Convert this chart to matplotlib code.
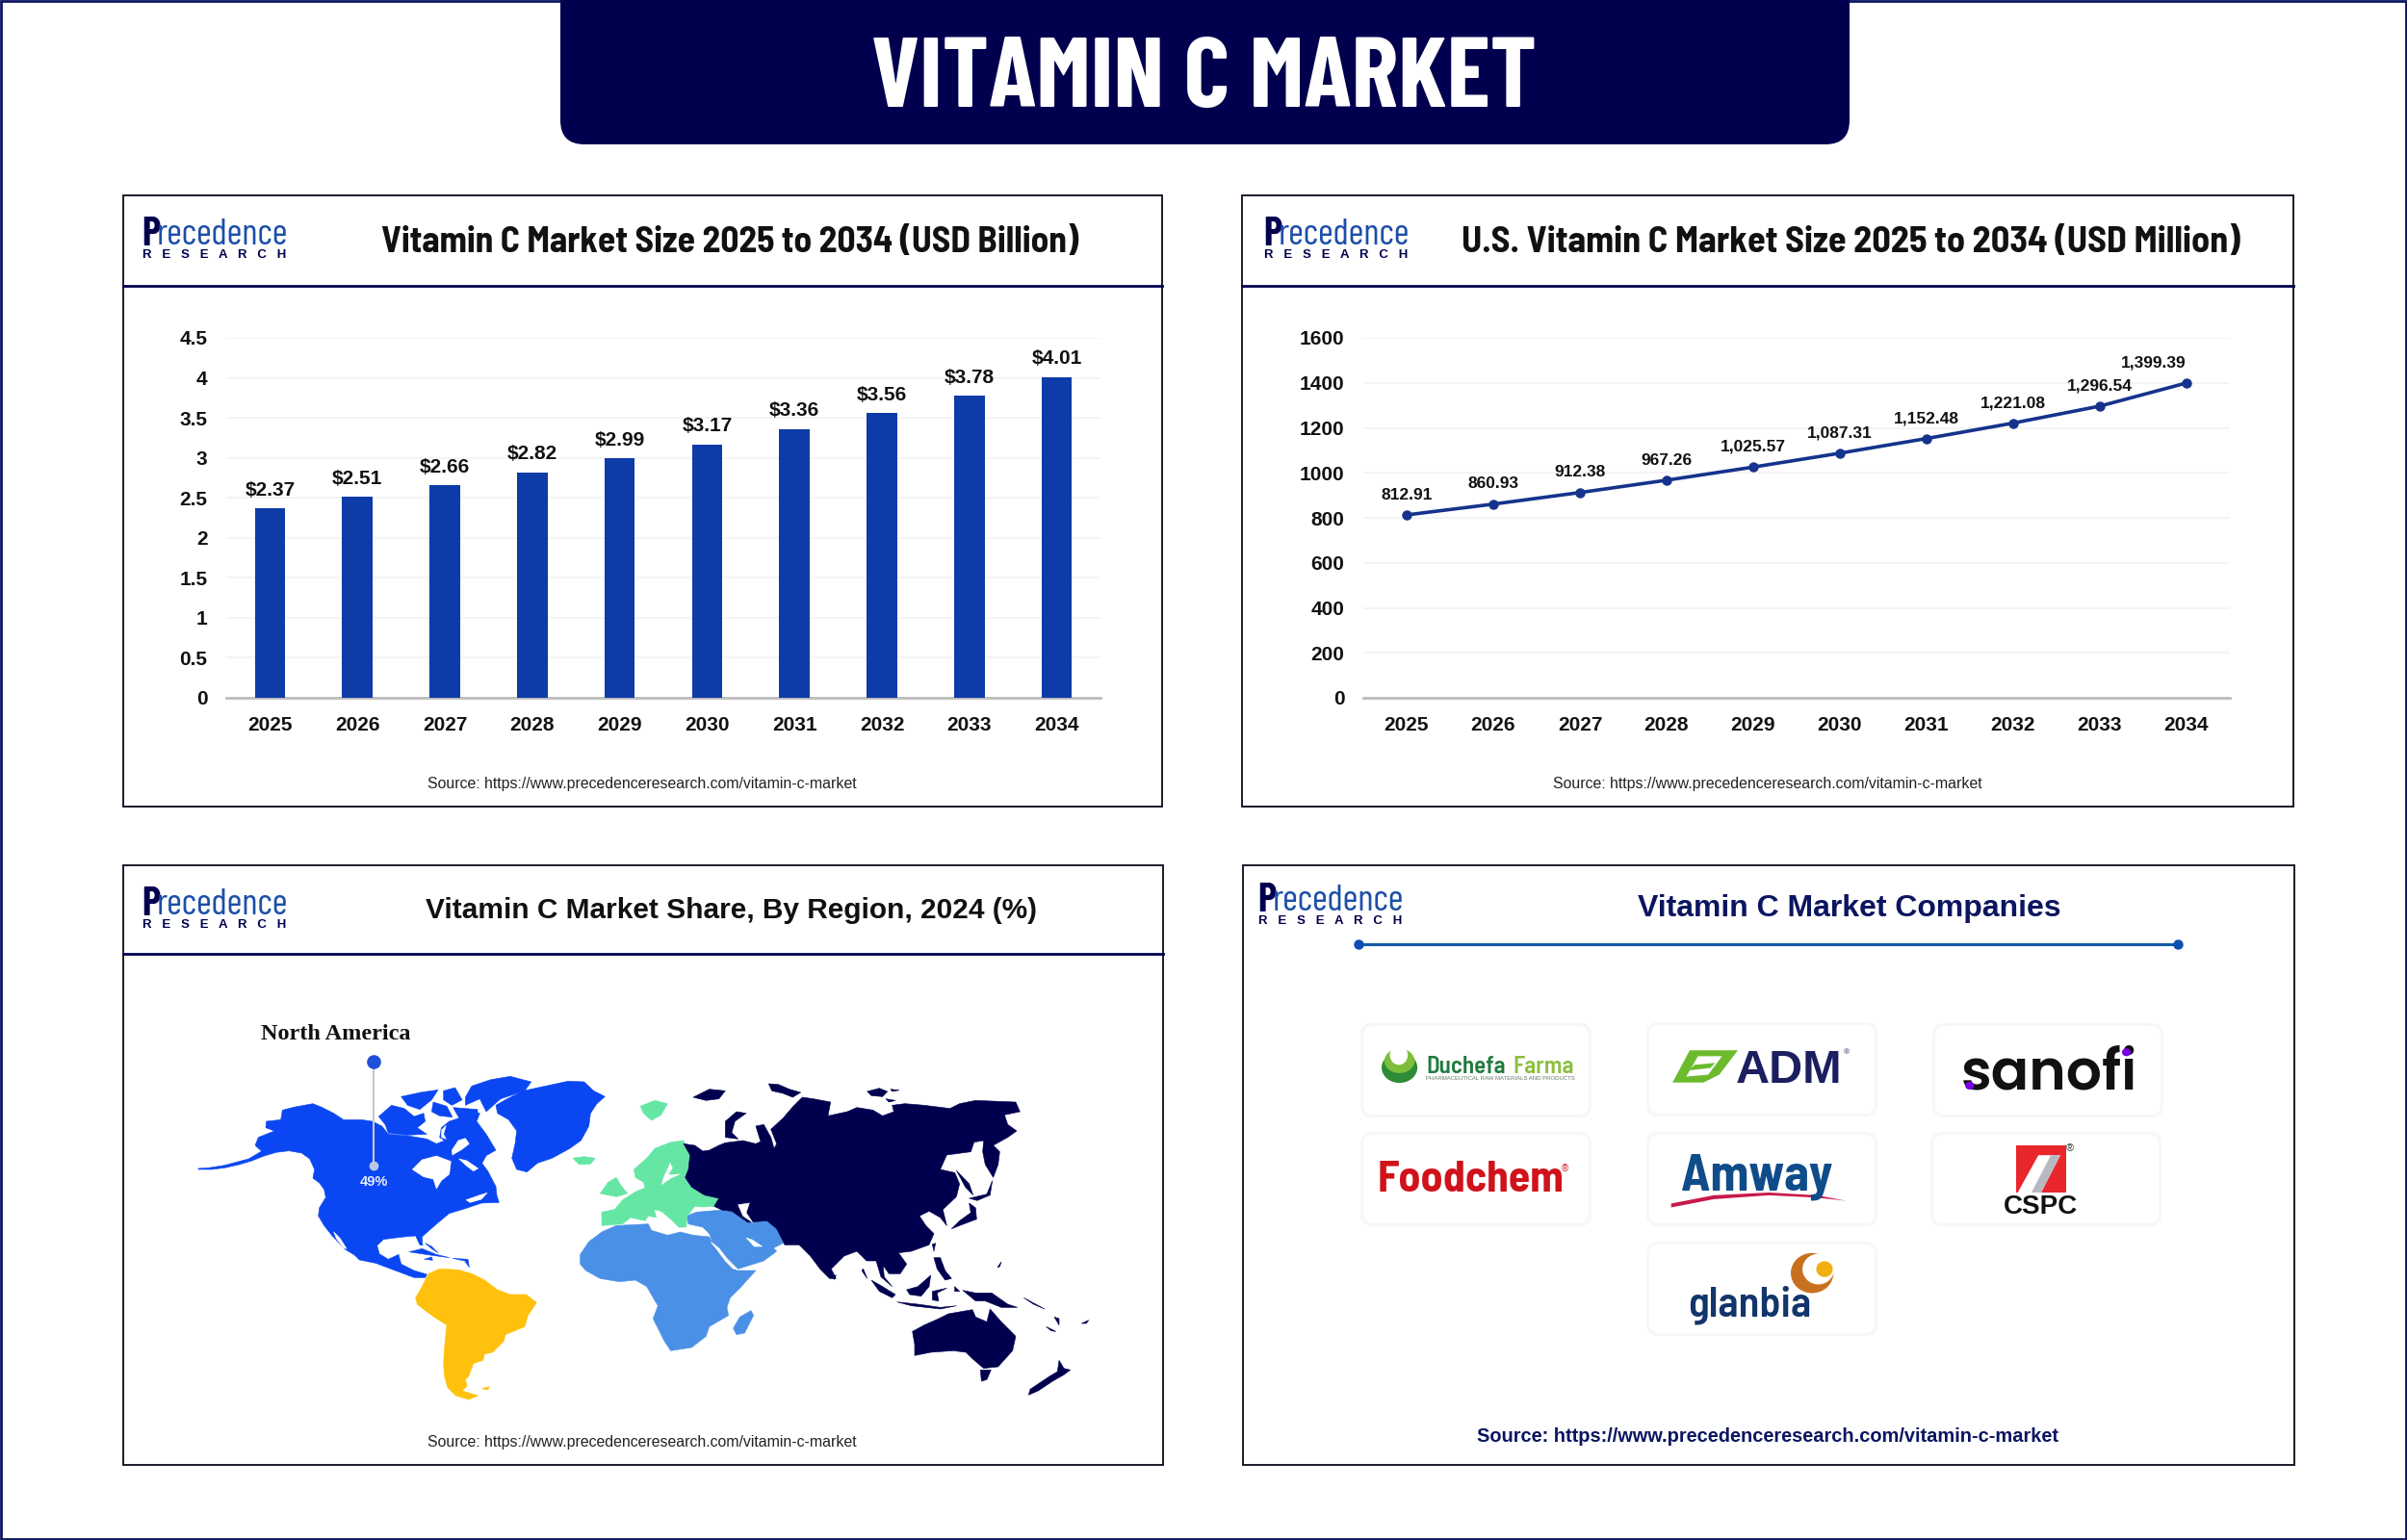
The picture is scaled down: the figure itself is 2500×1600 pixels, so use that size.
# Vitamin C market infographic, four panels on one sheet
import logging
import matplotlib
matplotlib.use("Agg")
import matplotlib.pyplot as plt
from matplotlib.patches import FancyBboxPatch, Polygon, Ellipse, Rectangle

logging.getLogger("matplotlib.font_manager").setLevel(logging.ERROR)

# Chart data
years = [2025, 2026, 2027, 2028, 2029, 2030, 2031, 2032, 2033, 2034]
market_size = [2.37, 2.51, 2.66, 2.82, 2.99, 3.17, 3.36, 3.56, 3.78, 4.01]
market_labels = ["$2.37", "$2.51", "$2.66", "$2.82", "$2.99", "$3.17", "$3.36", "$3.56", "$3.78", "$4.01"]
bar_yticks = [0, 0.5, 1, 1.5, 2, 2.5, 3, 3.5, 4, 4.5]
bar_yticklabels = ["0", "0.5", "1", "1.5", "2", "2.5", "3", "3.5", "4", "4.5"]
us_market = [812.91, 860.93, 912.38, 967.26, 1025.57, 1087.31, 1152.48, 1221.08, 1296.54, 1399.39]
us_labels = ["812.91", "860.93", "912.38", "967.26", "1,025.57", "1,087.31", "1,152.48", "1,221.08", "1,296.54", "1,399.39"]
line_yticks = [0, 200, 400, 600, 800, 1000, 1200, 1400, 1600]

# Map outlines traced by eye. West and middle use a 3x grid from sheet (190,1100) and (590,1100), east from (780,1110)
north_america = [(48,345),(90,345),(130,340),(175,330),(215,318),(250,304),(290,292),(330,287),(370,294),(395,312),(410,345),(405,372),
                 (425,387),(440,407),(445,432),(425,465),(422,490),(440,520),(465,552),(505,594),(535,612),(550,627),(600,637),(640,652),
                 (680,667),(720,682),(755,682),(760,672),(720,660),(680,640),(672,610),(640,625),(612,608),(605,582),(625,563),(680,556),
                 (725,552),(738,580),(747,582),(745,555),(790,515),(830,482),(880,467),(930,450),(985,448),(978,425),(975,398),(950,350),
                 (932,326),(945,302),(975,285),(945,235),(915,195),(925,170),(905,165),(860,185),(830,195),(805,215),(800,245),(815,255),
                 (790,265),(760,250),(700,240),(640,235),(620,210),(590,195),(555,190),(500,190),(470,170),(430,150),(405,140),(350,150),
                 (310,160),(305,190),(260,195),(258,215),(285,225),(235,245),(225,270),(245,288),(205,312),(130,332),(80,340),(48,342)]
hudson_bay = [(715,345),(745,315),(790,303),(835,320),(830,360),(805,380),(790,405),(780,375),(750,368)]
foxe_basin = [(858,255),(880,248),(892,265),(870,282),(840,300),(838,285)]
hudson_strait = [(860,312),(885,318),(920,342),(905,350),(885,335)]
st_lawrence = [(882,440),(925,425),(948,418),(930,438),(895,448)]
boothia_gap = [(806,222),(820,208),(812,235),(820,250),(806,245)]
gulf_california = [(470,540),(490,560),(510,592),(500,590),(478,560)]
banks_victoria = [(610,180),(650,145),(690,155),(720,180),(750,170),(755,195),(730,215),(760,235),(700,238),(640,232),(630,205)]
arctic_a = [(680,118),(740,105),(795,97),(775,128),(738,158),(700,145)]
arctic_b = [(812,100),(848,90),(870,128),(838,145),(812,128)]
arctic_c = [(780,135),(822,148),(840,182),(800,178),(775,165)]
arctic_d = [(842,152),(918,158),(918,188),(860,184)]
ellesmere = [(880,120),(900,85),(960,65),(1020,55),(1085,72),(1065,100),(990,125),(945,165),(925,125),(880,145)]
greenland = [(975,145),(1010,125),(1060,100),(1130,85),(1200,70),(1250,72),(1280,100),(1315,118),(1290,140),(1270,170),(1265,210),
             (1240,255),(1205,280),(1150,310),(1105,325),(1072,353),(1040,345),(1025,310),(1035,265),(1040,225),(1015,190),(980,170)]
cuba = [(705,602),(745,592),(790,610),(830,620),(770,612)]
hispaniola = [(752,625),(775,618),(778,628)]
bahamas = [(755,575),(775,585),(795,605),(775,592)]
antilles = [(840,622),(870,624),(888,625),(892,650),(878,630)]
south_america = [(725,745),(745,710),(765,670),(800,655),(860,658),(900,670),(940,690),(980,720),(1020,735),(1070,735),(1102,760),
                 (1075,800),(1065,835),(1005,860),(1000,880),(965,915),(940,920),(935,940),(905,950),(890,990),(880,1000),(885,1020),
                 (870,1035),(920,1050),(890,1062),(850,1050),(825,1025),(815,990),(812,950),(815,900),(822,830),(790,810),(755,785),(730,765)]
falkland = [(932,1028),(955,1022),(950,1032)]

europe = [(105,520),(105,478),(145,470),(170,440),(215,412),(240,403),(235,385),(210,370),(205,345),(245,310),(270,280),(320,260),(360,255),
          (380,300),(375,345),(365,370),(385,400),(425,425),(470,435),(455,460),(420,462),(395,460),(372,490),(368,525),(345,525),(320,500),
          (290,475),(268,470),(275,495),(250,490),(240,505),(195,495),(170,515)]
baltic = [(318,325),(325,340),(312,362),(348,360),(320,372),(292,392),(300,365),(310,345)]
uk = [(100,420),(125,385),(150,370),(165,395),(185,420),(150,430),(125,425)]
iceland = [(15,310),(50,305),(85,310),(70,328),(35,330)]
svalbard = [(225,148),(270,130),(310,140),(290,175),(260,192),(235,170)]
africa = [(38,610),(65,570),(105,540),(150,520),(250,515),(260,535),(310,550),(350,540),(390,550),(440,555),(460,590),(490,620),(525,660),
          (585,660),(540,710),(505,745),(495,775),(500,800),(440,835),(430,865),(385,900),(320,910),(300,880),(280,840),(265,810),(280,770),
          (245,710),(210,690),(160,695),(100,685),(55,660),(38,640)]
middle_east = [(370,490),(400,478),(470,472),(510,475),(560,510),(620,505),(650,530),(670,575),(640,590),(650,600),(610,630),(530,655),
               (490,615),(450,570),(440,545),(420,525),(375,515)]
red_sea = [(445,572),(470,590),(500,630),(525,655),(515,655),(490,630),(462,592)]
persian_gulf = [(555,558),(575,565),(605,585),(580,585)]
madagascar = [(570,785),(578,800),(550,855),(525,860),(515,840),(535,805)]

asia = [(-210,235),(-175,240),(-150,258),(-130,255),(-100,240),(-80,232),(-25,225),(15,235),(30,228),(15,180),(40,175),(62,215),(72,250),
        (80,235),(62,190),(100,155),(130,120),(160,90),(195,95),(248,105),(240,148),(300,135),(330,122),(380,130),(410,148),(445,135),
        (440,115),(480,110),(540,115),(620,125),(650,110),(700,100),(825,105),(838,135),(790,145),(800,175),(828,195),(800,215),(755,240),
        (775,260),(770,300),(755,340),(730,300),(722,260),(725,225),(695,230),(685,260),(610,270),(590,315),(635,325),(650,360),(640,400),
        (598,440),(610,490),(590,465),(555,445),(525,460),(545,490),(570,515),(555,550),(500,570),(460,575),(485,610),(465,640),(430,640),
        (412,615),(415,650),(440,680),(405,650),(390,600),(360,600),(330,570),(290,585),(250,625),(265,655),(245,655),(215,625),(185,585),
        (150,550),(105,550),(80,500),(50,475),(-10,480),(-60,445),(-90,442),(-115,430),(-100,405),(-145,395),(-185,370),(-205,340),(-195,315),
        (-190,270)]
caspian = [(-40,425),(-5,420),(-15,450),(5,480),(-25,460)]
novaya_zemlya = [(-80,215),(-80,165),(-45,135),(-15,140),(-50,165),(-60,200),(-40,220)]
franz_josef = [(-180,90),(-130,65),(-80,70),(-100,95),(-140,100)]
severnaya = [(55,48),(85,50),(120,65),(155,75),(130,90),(100,78),(65,70)]
siberian_a = [(362,72),(400,62),(425,72),(410,88),(375,85)]
siberian_b = [(420,95),(450,100),(430,105)]
siberian_c = [(435,65),(462,68),(440,72)]
sakhalin = [(640,318),(680,360),(692,395),(668,370)]
hokkaido = [(680,405),(735,392),(752,350),(745,395),(705,412)]
japan = [(680,420),(700,435),(703,470),(650,490),(625,500),(650,475),(685,450)]
taiwan = [(565,548),(575,545),(570,570)]
philippines = [(570,590),(590,590),(605,630),(625,655),(605,660),(580,625)]
borneo = [(485,690),(520,680),(560,645),(555,680),(530,710),(495,705)]
sumatra = [(375,660),(410,680),(450,705),(440,715),(400,695)]
java = [(455,728),(520,735),(590,745),(640,740),(590,750),(500,740)]
sulawesi = [(565,695),(610,685),(580,700),(585,725),(565,722)]
papua = [(660,692),(700,700),(750,700),(800,735),(830,745),(780,745),(730,725),(700,725)]
moluccas = [(635,680),(650,695),(635,695)]
solomon = [(850,715),(915,750),(880,735)]
vanuatu = [(945,775),(960,780),(960,800)]
caledonia = [(920,805),(950,820),(935,818)]
fiji = [(1030,795),(1052,785),(1045,795)]
sri_lanka = [(248,645),(265,645),(260,658)]
andaman = [(345,630),(350,625),(362,655)]
solo_mark = [(768,620),(780,603),(775,618)]
australia = [(503,820),(540,800),(585,780),(615,765),(690,752),(700,775),(735,790),(745,750),(780,790),(825,835),(815,880),(770,930),(725,935),
             (690,905),(670,885),(630,880),(560,885),(510,895),(510,860)]
tasmania = [(715,940),(748,940),(735,970),(718,975)]
new_zealand = [(960,910),(975,935),(995,940),(975,955),(940,975),(895,1005),(865,1018),(870,1000),(930,960),(955,945)]

NAVY = "#00004F"
BAR_BLUE = "#0D3BA8"
LINE_BLUE = "#15338C"
GRID = "#F3F3F3"
BASE = "#BDBDBD"
ARIAL = "Liberation Sans"
SEMI = ["Barlow Semi Condensed", "Liberation Sans"]
COND = ["Barlow Condensed", "Liberation Sans"]
SOURCE = "Source: https://www.precedenceresearch.com/vitamin-c-market"

fig = plt.figure(figsize=(25, 16), dpi=100, facecolor="white")


def pixel_axes(left, top, width, height, xlim, ylim):
    """Axes placed by sheet pixels, y measured from the top."""
    ax = fig.add_axes([left / 2500, 1 - (top + height) / 1600, width / 2500, height / 1600])
    ax.set_xlim(*xlim)
    ax.set_ylim(*ylim)
    return ax


def fill_shapes(ax, colour, shapes):
    for shape in shapes:
        ax.add_patch(Polygon(shape, closed=True, fc=colour, ec=colour, lw=0.4, joinstyle="round", clip_on=False))


sheet = pixel_axes(0, 0, 2500, 1600, (0, 2500), (1600, 0))
sheet.axis("off")

# Outer frame and title tab
sheet.add_patch(Rectangle((1, 1), 2498, 1598, fill=False, ec="#0B1560", lw=2))
sheet.add_patch(FancyBboxPatch((582, -60), 1339, 210, boxstyle="round,pad=0,rounding_size=25", fc=NAVY, ec="none"))
sheet.text(1250, 84, "VITAMIN C MARKET", color="white", fontsize=74, family=COND, fontweight="bold", ha="center", va="center")


def panel(left, top, right, bottom, rule_y):
    sheet.add_patch(Rectangle((left, top), right - left, bottom - top, fill=False, ec="#1A1A2A", lw=1.4))
    if rule_y:
        sheet.plot([left, right], [rule_y, rule_y], color=NAVY, lw=2)


def brand(x, y):
    # x is the left of the wordmark, y the middle of the word
    sheet.text(x, y, "P", color=NAVY, fontsize=30, family=COND, fontweight="bold", va="center", ha="left")
    sheet.text(x + 16, y + 1, "recedence", color="#1C4FA8", fontsize=27.5, family=COND, va="center", ha="left")
    sheet.text(x + 1, y + 21, "R   E   S   E   A   R   C   H", color=NAVY, fontsize=9.5, family=ARIAL, fontweight="bold", va="center", ha="left")


panel(128, 203, 1207, 838, 297)
panel(1290, 203, 2382, 838, 297)
panel(128, 899, 1208, 1522, 991)
panel(1291, 899, 2383, 1522, None)
brand(147, 244)
brand(1312, 244)
brand(147, 940)
brand(1306, 936)

sheet.text(758, 252, "Vitamin C Market Size 2025 to 2034 (USD Billion)", fontsize=27, fontweight="bold", family=SEMI, color="#111111",
           ha="center", va="center")
sheet.text(1922, 252, "U.S. Vitamin C Market Size 2025 to 2034 (USD Million)", fontsize=27.5, fontweight="bold", family=SEMI, color="#111111",
           ha="center", va="center")
sheet.text(760, 946, "Vitamin C Market Share, By Region, 2024 (%)", fontsize=21.5, fontweight="bold", family=ARIAL, color="#111111",
           ha="center", va="center")
sheet.text(1921, 944, "Vitamin C Market Companies", fontsize=23, fontweight="bold", family=ARIAL, color="#0B1560", ha="center", va="center")
sheet.text(667, 814, SOURCE, fontsize=11.4, family=ARIAL, color="#222222", ha="center", va="center")
sheet.text(1836, 814, SOURCE, fontsize=11.4, family=ARIAL, color="#222222", ha="center", va="center")
sheet.text(667, 1498, SOURCE, fontsize=11.4, family=ARIAL, color="#222222", ha="center", va="center")
sheet.text(1836, 1492, SOURCE, fontsize=14.4, fontweight="bold", family=ARIAL, color="#0B1560", ha="center", va="center")

# Bar chart
ax1 = pixel_axes(235, 351, 908, 374, (-0.5, 9.5), (0, 4.5))
ax1.patch.set_alpha(0)
ax1.bar(range(len(years)), market_size, width=0.35, color=BAR_BLUE, zorder=3)
for i, label in enumerate(market_labels):
    ax1.annotate(label, (i, market_size[i]), xytext=(0, 13.5), textcoords="offset points", ha="center", va="center", fontsize=15,
                 fontweight="bold", family=ARIAL, color="#111111")
ax1.set_xticks(range(len(years)))
ax1.set_xticklabels(years)
ax1.set_yticks(bar_yticks)
ax1.set_yticklabels(bar_yticklabels)

# Line chart
ax2 = pixel_axes(1416, 351, 900, 374, (-0.5, 9.5), (0, 1600))
ax2.patch.set_alpha(0)
ax2.plot(range(len(years)), us_market, color=LINE_BLUE, lw=2.6, marker="o", ms=6.5, zorder=3)
for i, label in enumerate(us_labels):
    # the last label sits left of its point in the original
    shift = -25 if i == len(us_labels) - 1 else 0
    ax2.annotate(label, (i, us_market[i]), xytext=(shift, 15), textcoords="offset points", ha="center", va="center", fontsize=12.5,
                 fontweight="bold", family=ARIAL, color="#111111")
ax2.set_xticks(range(len(years)))
ax2.set_xticklabels(years)
ax2.set_yticks(line_yticks)

for ax in (ax1, ax2):
    ax.grid(axis="y", color=GRID, lw=1.3, zorder=0)
    ax.set_axisbelow(True)
    for side in ("top", "right", "left"):
        ax.spines[side].set_visible(False)
    ax.spines["bottom"].set_color(BASE)
    ax.spines["bottom"].set_linewidth(2)
    ax.tick_params(length=0, pad=14)
    for tick in ax.get_xticklabels() + ax.get_yticklabels():
        tick.set_fontsize(15)
        tick.set_fontweight("bold")
        tick.set_fontfamily(ARIAL)
        tick.set_color("#111111")

# World map, one axes per tracing grid
west = pixel_axes(190, 1100, 400, 400, (0, 1200), (1200, 0))
west.axis("off")
fill_shapes(west, "#0A47F2", [north_america, banks_victoria, arctic_a, arctic_b, arctic_c, arctic_d, ellesmere, greenland, cuba,
                              hispaniola, bahamas, antilles])
fill_shapes(west, "white", [hudson_bay, foxe_basin, hudson_strait, st_lawrence, boothia_gap, gulf_california])
fill_shapes(west, "#FFC10D", [south_america, falkland])

middle = pixel_axes(590, 1100, 280, 400, (0, 840), (1200, 0))
middle.axis("off")
fill_shapes(middle, "#4A90E6", [africa, middle_east, madagascar])
fill_shapes(middle, "white", [red_sea, persian_gulf])
fill_shapes(middle, "#66E6A5", [europe, uk, iceland, svalbard])
fill_shapes(middle, "white", [baltic])

east = pixel_axes(780, 1110, 380, 380, (0, 1140), (1140, 0))
east.axis("off")
fill_shapes(east, NAVY, [asia, novaya_zemlya, franz_josef, severnaya, siberian_a, siberian_b, siberian_c, sakhalin, hokkaido, japan, taiwan,
                         philippines, borneo, sumatra, java, sulawesi, papua, moluccas, solomon, vanuatu, caledonia, fiji, sri_lanka,
                         andaman, solo_mark, australia, tasmania, new_zealand])
fill_shapes(east, "white", [caspian])

# North America callout, sheet pixels on a top layer
callout = pixel_axes(0, 0, 2500, 1600, (0, 2500), (1600, 0))
callout.axis("off")
callout.plot([388, 388], [1103, 1211], color="#C4C8D2", lw=1.5)
callout.plot([388], [1103], "o", color="#1F4FD8", ms=9.5)
callout.plot([388], [1211], "o", color="#BBC7E8", ms=6)
callout.text(349, 1074, "North America", fontsize=17.5, fontweight="bold", family="Liberation Serif", color="#111111", ha="center", va="center")
callout.text(388, 1228, "49%", fontsize=10.5, fontweight="bold", family=ARIAL, color="#E6ECFF", ha="center", va="center")

# Company cards, in sheet pixels
card_x = [1416, 1713, 2010, 1416, 1713, 2008, 1713]
card_y = [1066, 1065, 1066, 1179, 1179, 1179, 1293]
for x, y in zip(card_x, card_y):
    callout.add_patch(FancyBboxPatch((x - 3, y - 3), 240, 98, boxstyle="round,pad=0,rounding_size=12", fc="#F6F7FB", ec="none"))
    callout.add_patch(FancyBboxPatch((x, y), 234, 92, boxstyle="round,pad=0,rounding_size=10", fc="white", ec="none"))
callout.plot([1411, 2262], [981, 981], color="#1259A8", lw=2.2)
callout.plot([1411, 2262], [981, 981], "o", color="#0D4FB0", ms=6.5)

# Logos, on a grid of 1568 over the crop at (1280,890)
logo = pixel_axes(1280, 890, 1120, 640, (0, 1568), (1568, 0))
logo.axis("off")

# Duchefa Farma
logo.add_patch(Ellipse((243, 537), 52, 78, fc="#2E8B37", ec="none"))
logo.add_patch(Ellipse((243, 520), 44, 62, fc="#7DBE3B", ec="none"))
logo.add_patch(Ellipse((242, 505), 26, 50, fc="white", ec="none"))
logo.text(282, 552, "Duchefa", fontsize=18, fontweight=600, family=SEMI, color="#1F7A3D", ha="left", va="baseline")
logo.text(408, 552, "Farma", fontsize=18, fontweight=600, family=SEMI, color="#8CBF3F", ha="left", va="baseline")
logo.text(282, 565, "PHARMACEUTICAL RAW MATERIALS AND PRODUCTS", fontsize=4.3, family=ARIAL, color="#667766", ha="left", va="center")

# ADM
logo.add_patch(Polygon([(665, 493), (735, 493), (708, 555), (685, 575), (640, 575)], fc="#6CBB2E", ec="none"))
logo.add_patch(Polygon([(677, 508), (712, 508), (692, 555), (660, 560)], fc="white", ec="none"))
logo.add_patch(Polygon([(672, 530), (702, 525), (695, 538), (664, 544)], fc="#6CBB2E", ec="none"))
logo.text(810, 576, "ADM", fontsize=35, fontweight="bold", family=ARIAL, color="#1B1F5F", ha="center", va="baseline")
logo.text(893, 499, "®", fontsize=6, family=ARIAL, color="#1B1F5F", ha="center", va="center")

# sanofi
logo.text(1187, 592, "sanofi", fontsize=42, fontweight=600, family=["Poppins", "Lato"], color="#111111", ha="center", va="baseline")
logo.add_patch(Ellipse((1072, 583), 13, 20, fc="#7A00E6", ec="none", zorder=4))
logo.add_patch(Ellipse((1300, 498), 13, 20, fc="#7A00E6", ec="none", zorder=4))

# Foodchem
logo.text(347, 853, "Foodchem", fontsize=33, fontweight="bold", family=SEMI, color="#D0121B", ha="center", va="baseline")
logo.text(483, 794, "®", fontsize=7, family=ARIAL, color="#D0121B", ha="center", va="center")

# Amway
logo.text(763, 848, "Amway", fontsize=38, fontweight="bold", family=SEMI, color="#0F4C8A", ha="center", va="baseline")
logo.add_patch(Polygon([(638, 883), (700, 862), (780, 855), (850, 862), (892, 876), (850, 868), (780, 862), (700, 872), (638, 893)],
                       fc="#C8194B", ec="none"))

# CSPC
logo.add_patch(Rectangle((1140, 735), 72, 120, fc="#E8262C", ec="none"))
logo.add_patch(Polygon([(1172, 760), (1204, 760), (1176, 855), (1142, 855)], fc="white", ec="none"))
logo.add_patch(Polygon([(1190, 760), (1204, 760), (1176, 855), (1162, 855)], fc="#B8B8C0", ec="none"))
logo.text(1176, 910, "CSPC", fontsize=20, fontweight="bold", family=ARIAL, color="#111111", ha="center", va="baseline")
logo.text(1218, 743, "®", fontsize=8, family=ARIAL, color="#333333", ha="center", va="center")

# glanbia
logo.add_patch(Ellipse((843, 1060), 62, 102, fc="#C9701E", ec="none"))
logo.add_patch(Ellipse((852, 1050), 46, 78, fc="white", ec="none"))
logo.add_patch(Ellipse((861, 1050), 24, 40, fc="#F0B010", ec="none"))
logo.text(662, 1170, "glanbia", fontsize=32, fontweight=600, family=SEMI, color="#12356B", ha="left", va="baseline")

fig.savefig("out.png", dpi=100)
